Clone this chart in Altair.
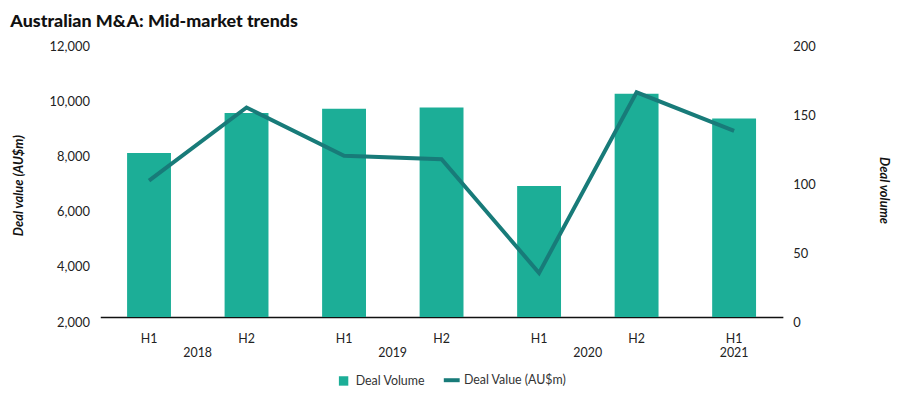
import altair as alt
import pandas as pd

# ---- data ----
periods = ["2018 H1", "2018 H2", "2019 H1", "2019 H2", "2020 H1", "2020 H2", "2021 H1"]
deal_volume_bars = [7950, 9400, 9550, 9600, 6750, 10100, 9200]   # drawn on left axis scale
deal_value_line = [99, 152, 117, 114.5, 32, 163, 135]             # drawn on right axis scale
year_labels = ["2018", "2019", "2020", "2021"]
year_anchor = ["2018 H1", "2019 H1", "2020 H1", "2021 H1"]
left_ticks = [2000, 4000, 6000, 8000, 10000, 12000]
right_ticks = [0, 50, 100, 150, 200]
series_names = ["Deal Volume", "Deal Value (AU$m)"]

df = pd.DataFrame({"period": periods, "bars": deal_volume_bars, "line": deal_value_line})
years_mid = pd.DataFrame({"period": year_anchor[:3], "year": year_labels[:3]})
years_end = pd.DataFrame({"period": year_anchor[3:], "year": year_labels[3:]})

W, H = 688, 278
FONT = "Lato"
BAR = "#1cae97"
LINE = "#187b79"
TXT = "#222222"

color_scale = alt.Scale(domain=series_names, range=[BAR, LINE])
legend = alt.Legend(
    title=None, orient="none", direction="horizontal", legendX=239, legendY=335,
    padding=0,
    labelFont=FONT, labelFontSize=12.5, labelColor="#333333",
    symbolType={"expr": "datum.value == 'Deal Volume' ? 'square' : 'stroke'"},
    symbolSize={"expr": "datum.value == 'Deal Volume' ? 90 : 256"},
    symbolStrokeWidth={"expr": "datum.value == 'Deal Volume' ? 0 : 4"},
    symbolOpacity=1, labelOffset=6, columnPadding=10,
)

x = alt.X(
    "period:N", sort=periods,
    scale=alt.Scale(paddingInner=0.55, paddingOuter=0.275),
    axis=alt.Axis(
        title=None, labelExpr="substring(datum.label, 5)", labelAngle=0,
        ticks=False, domainColor="#111111", domainWidth=1.5, labelPadding=16,
        labelFont=FONT, labelFontSize=12.5, labelColor=TXT,
    ),
)

bars = alt.Chart(df).transform_calculate(series="'Deal Volume'").mark_bar().encode(
    x=x,
    y=alt.Y(
        "bars:Q",
        scale=alt.Scale(domain=[2000, 12000], zero=False, nice=False),
        axis=alt.Axis(
            title="Deal value (AU$m)", values=left_ticks, format=",.0f",
            ticks=False, domain=False, grid=False, labelPadding=11, labelOffset=5,
            labelFont=FONT, labelFontSize=13, labelColor=TXT,
            titleFont=FONT, titleFontSize=13, titleFontWeight="bold", titleFontStyle="italic",
            titleColor="#111111", titlePadding=24, titleY=145,
        ),
    ),
    y2=alt.datum(2000),
    color=alt.Color("series:N", scale=color_scale, legend=legend),
)

line = alt.Chart(df).transform_calculate(series="'Deal Value (AU$m)'").mark_line(strokeWidth=4).encode(
    x=x,
    y=alt.Y(
        "line:Q",
        scale=alt.Scale(domain=[0, 200], nice=False),
        axis=alt.Axis(
            orient="right", title="Deal volume", values=right_ticks, format=".0f",
            ticks=False, domain=False, grid=False, labelPadding=10, labelOffset=5,
            labelFont=FONT, labelFontSize=13, labelColor=TXT,
            titleFont=FONT, titleFontSize=13, titleFontWeight="bold", titleFontStyle="italic",
            titleColor="#111111", titlePadding=62, titleY=150,
        ),
    ),
    color=alt.Color("series:N", scale=color_scale, legend=legend),
)

yr_mid = alt.Chart(years_mid).mark_text(
    dx=49, baseline="middle", font=FONT, fontSize=12.5, color=TXT
).encode(x=x, y=alt.value(H + 36), text="year:N")

yr_end = alt.Chart(years_end).mark_text(
    baseline="middle", font=FONT, fontSize=12.5, color=TXT
).encode(x=x, y=alt.value(H + 36), text="year:N")

chart = (
    alt.layer(bars, line, yr_mid, yr_end)
    .resolve_scale(y="independent")
    .properties(
        width=W, height=H,
        title=alt.TitleParams(
            "Australian M&A: Mid-market trends", anchor="start", dx=-2,
            font=FONT, fontSize=18, fontWeight=900, color="#111111", offset=9,
        ),
        autosize=alt.AutoSizeParams(type="none"),
        padding={"left": 93, "top": 32, "right": 110, "bottom": 78},
    )
    .configure_view(stroke=None)
)

chart.save("out.html", embed_options={"renderer": "svg", "actions": False})
